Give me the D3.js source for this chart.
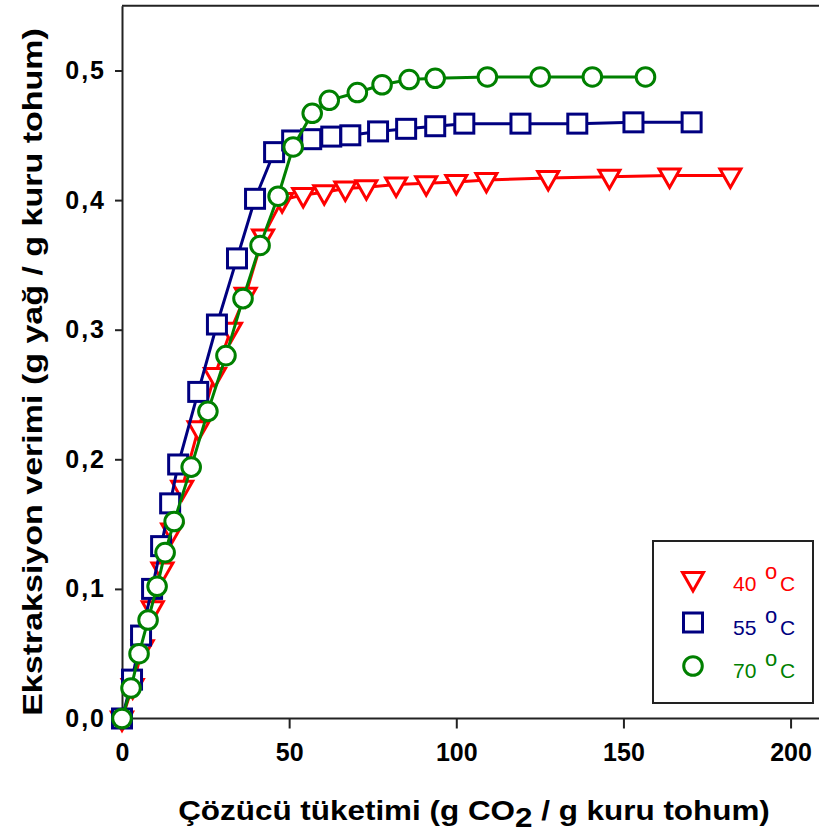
<!DOCTYPE html>
<html>
<head>
<meta charset="utf-8">
<script src="https://cdn.jsdelivr.net/npm/d3@7"></script>
<style>
  body { margin: 0; background: #fff; }
  svg { display: block; font-family: Arial, "Liberation Sans", sans-serif; }
</style>
</head>
<body>
<div id="chart"></div>
<script>
// 40 °C (red triangles)
const x40 = [0, 3.2, 6.2, 9.2, 12.1, 15.0, 18.0, 22.9, 27.8, 32.6, 37.0, 42.2, 47.9, 54.2, 60.5, 66.8, 73.1, 82.0, 91.0, 100.0, 109.0, 127.5, 145.8, 163.8, 182.0];
const y40 = [0, 0.025, 0.055, 0.085, 0.115, 0.145, 0.178, 0.224, 0.265, 0.300, 0.327, 0.372, 0.400, 0.404, 0.406, 0.409, 0.410, 0.412, 0.413, 0.414, 0.4155, 0.417, 0.418, 0.419, 0.419];
// 55 °C (blue squares)
const x55 = [0, 3.0, 5.7, 9.0, 11.7, 14.4, 16.8, 22.8, 28.4, 34.4, 39.8, 45.5, 50.9, 56.6, 62.6, 68.3, 76.6, 85.0, 93.7, 102.4, 119.2, 136.2, 153.0, 170.4];
const y55 = [0, 0.030, 0.064, 0.100, 0.133, 0.166, 0.196, 0.252, 0.304, 0.355, 0.401, 0.437, 0.446, 0.447, 0.449, 0.450, 0.453, 0.455, 0.457, 0.459, 0.459, 0.459, 0.460, 0.460];
// 70 °C (green circles)
const x70 = [0, 2.7, 5.1, 7.8, 10.5, 12.9, 15.6, 20.7, 25.7, 31.1, 36.2, 41.3, 46.7, 51.2, 56.9, 62.0, 70.4, 77.8, 85.9, 93.7, 109.3, 125.1, 140.7, 156.6];
const y70 = [0, 0.0235, 0.050, 0.076, 0.102, 0.128, 0.152, 0.194, 0.237, 0.280, 0.324, 0.365, 0.403, 0.441, 0.467, 0.477, 0.483, 0.489, 0.493, 0.494, 0.495, 0.495, 0.495, 0.495];

const xTicks = [0, 50, 100, 150, 200];
const yTicks = [0, 0.1, 0.2, 0.3, 0.4, 0.5];
const seriesNames = ["40", "55", "70"];

const width = 819;
const height = 835;

const svg = d3.select("#chart")
    .append("svg")
    .attr("width", width)
    .attr("height", height);

const xScale = d3.scaleLinear().domain([0, 210]).range([122, 824]);
const yScale = d3.scaleLinear().domain([0, 0.55]).range([718.5, 5.7]);

const series = [
    { name: seriesNames[0], xs: x40, ys: y40, color: "#ff0000", shape: "tri" },
    { name: seriesNames[1], xs: x55, ys: y55, color: "#000080", shape: "sq" },
    { name: seriesNames[2], xs: x70, ys: y70, color: "#008000", shape: "circ" },
];

function drawMarker(g, shape, color) {
    if (shape === "tri") {
        g.append("path")
            .attr("d", "M-10.5,-6.5 L10.5,-6.5 L0,12 Z")
            .attr("fill", "#fff").attr("stroke", color).attr("stroke-width", 3)
            .attr("stroke-linejoin", "miter");
    } else if (shape === "sq") {
        g.append("rect")
            .attr("x", -9.5).attr("y", -9.5).attr("width", 19).attr("height", 19)
            .attr("fill", "#fff").attr("stroke", color).attr("stroke-width", 3);
    } else {
        g.append("circle")
            .attr("r", 9.3)
            .attr("fill", "#fff").attr("stroke", color).attr("stroke-width", 3);
    }
}

// squeeze/stretch a text horizontally so it spans the wanted width
function fitWidth(sel, target, cx, cy, rotate) {
    const w = sel.node().getComputedTextLength();
    const sx = target / w;
    sel.attr("transform", `translate(${cx}, ${cy}) rotate(${rotate}) scale(${sx}, 1)`);
}

// frame top + axes
svg.append("line")
    .attr("x1", xScale(0)).attr("x2", width)
    .attr("y1", yScale(0.55)).attr("y2", yScale(0.55))
    .attr("stroke", "#222").attr("stroke-width", 2);

const xAxis = svg.append("g")
    .attr("transform", `translate(0, ${yScale(0)})`)
    .call(d3.axisBottom(xScale).tickValues(xTicks).tickSize(10).tickSizeOuter(0).tickPadding(15));
xAxis.select(".domain").attr("d", `M${xScale(0)},0H${width}`);

const yAxis = svg.append("g")
    .attr("transform", `translate(${xScale(0)}, 0)`)
    .call(d3.axisLeft(yScale).tickValues(yTicks).tickSize(7).tickSizeOuter(0).tickPadding(11)
        .tickFormat((d) => d3.format(".1f")(d).replace(".", ",")));

svg.selectAll(".tick text")
    .attr("font-size", 25)
    .attr("font-weight", "bold")
    .attr("fill", "#000")
    .attr("font-family", "Arial, 'Liberation Sans', sans-serif");
yAxis.selectAll(".tick text").attr("letter-spacing", 2).attr("dx", 2);
svg.selectAll(".domain, .tick line").attr("stroke", "#222").attr("stroke-width", 2);

// data
series.forEach((s) => {
    const pts = s.xs.map((v, i) => [v, s.ys[i]]);
    const line = d3.line().x((d) => xScale(d[0])).y((d) => yScale(d[1]));
    const g = svg.append("g");
    g.append("path")
        .attr("d", line(pts))
        .attr("fill", "none")
        .attr("stroke", s.color)
        .attr("stroke-width", 3);
    g.selectAll("g.mk")
        .data(pts)
        .join("g")
        .attr("class", "mk")
        .attr("transform", (d) => `translate(${xScale(d[0])},${yScale(d[1])})`)
        .each(function () { drawMarker(d3.select(this), s.shape, s.color); });
});

// legend
const legend = svg.append("g");
legend.append("rect")
    .attr("x", 653).attr("y", 541).attr("width", 160).attr("height", 162)
    .attr("fill", "#fff").attr("stroke", "#222").attr("stroke-width", 2);
series.forEach((s, i) => {
    const cy = 579 + i * 43.5;
    const mg = legend.append("g").attr("transform", `translate(693, ${cy})`);
    drawMarker(mg, s.shape, s.color);
    const t = legend.append("text")
        .attr("x", 733).attr("y", cy + 12)
        .attr("fill", s.color)
        .attr("font-size", 21);
    t.append("tspan").text(s.name);
    t.append("tspan").attr("x", 765).attr("dy", -12).attr("font-size", 22).text("o");
    t.append("tspan").attr("x", 780).attr("dy", 12).text("C");
});

// axis titles
const yt = svg.append("text")
    .attr("text-anchor", "middle")
    .attr("font-size", 28)
    .attr("font-weight", "bold")
    .text("Ekstraksiyon verimi (g yağ / g kuru tohum)");
fitWidth(yt, 688, 42, 372, -90);

const xt = svg.append("text")
    .attr("text-anchor", "middle")
    .attr("font-size", 28)
    .attr("font-weight", "bold");
xt.append("tspan").text("Çözücü tüketimi (g CO");
xt.append("tspan").attr("dy", 7).text("2");
xt.append("tspan").attr("dy", -7).text(" / g kuru tohum)");
fitWidth(xt, 592, 474, 820, 0);
</script>
</body>
</html>
